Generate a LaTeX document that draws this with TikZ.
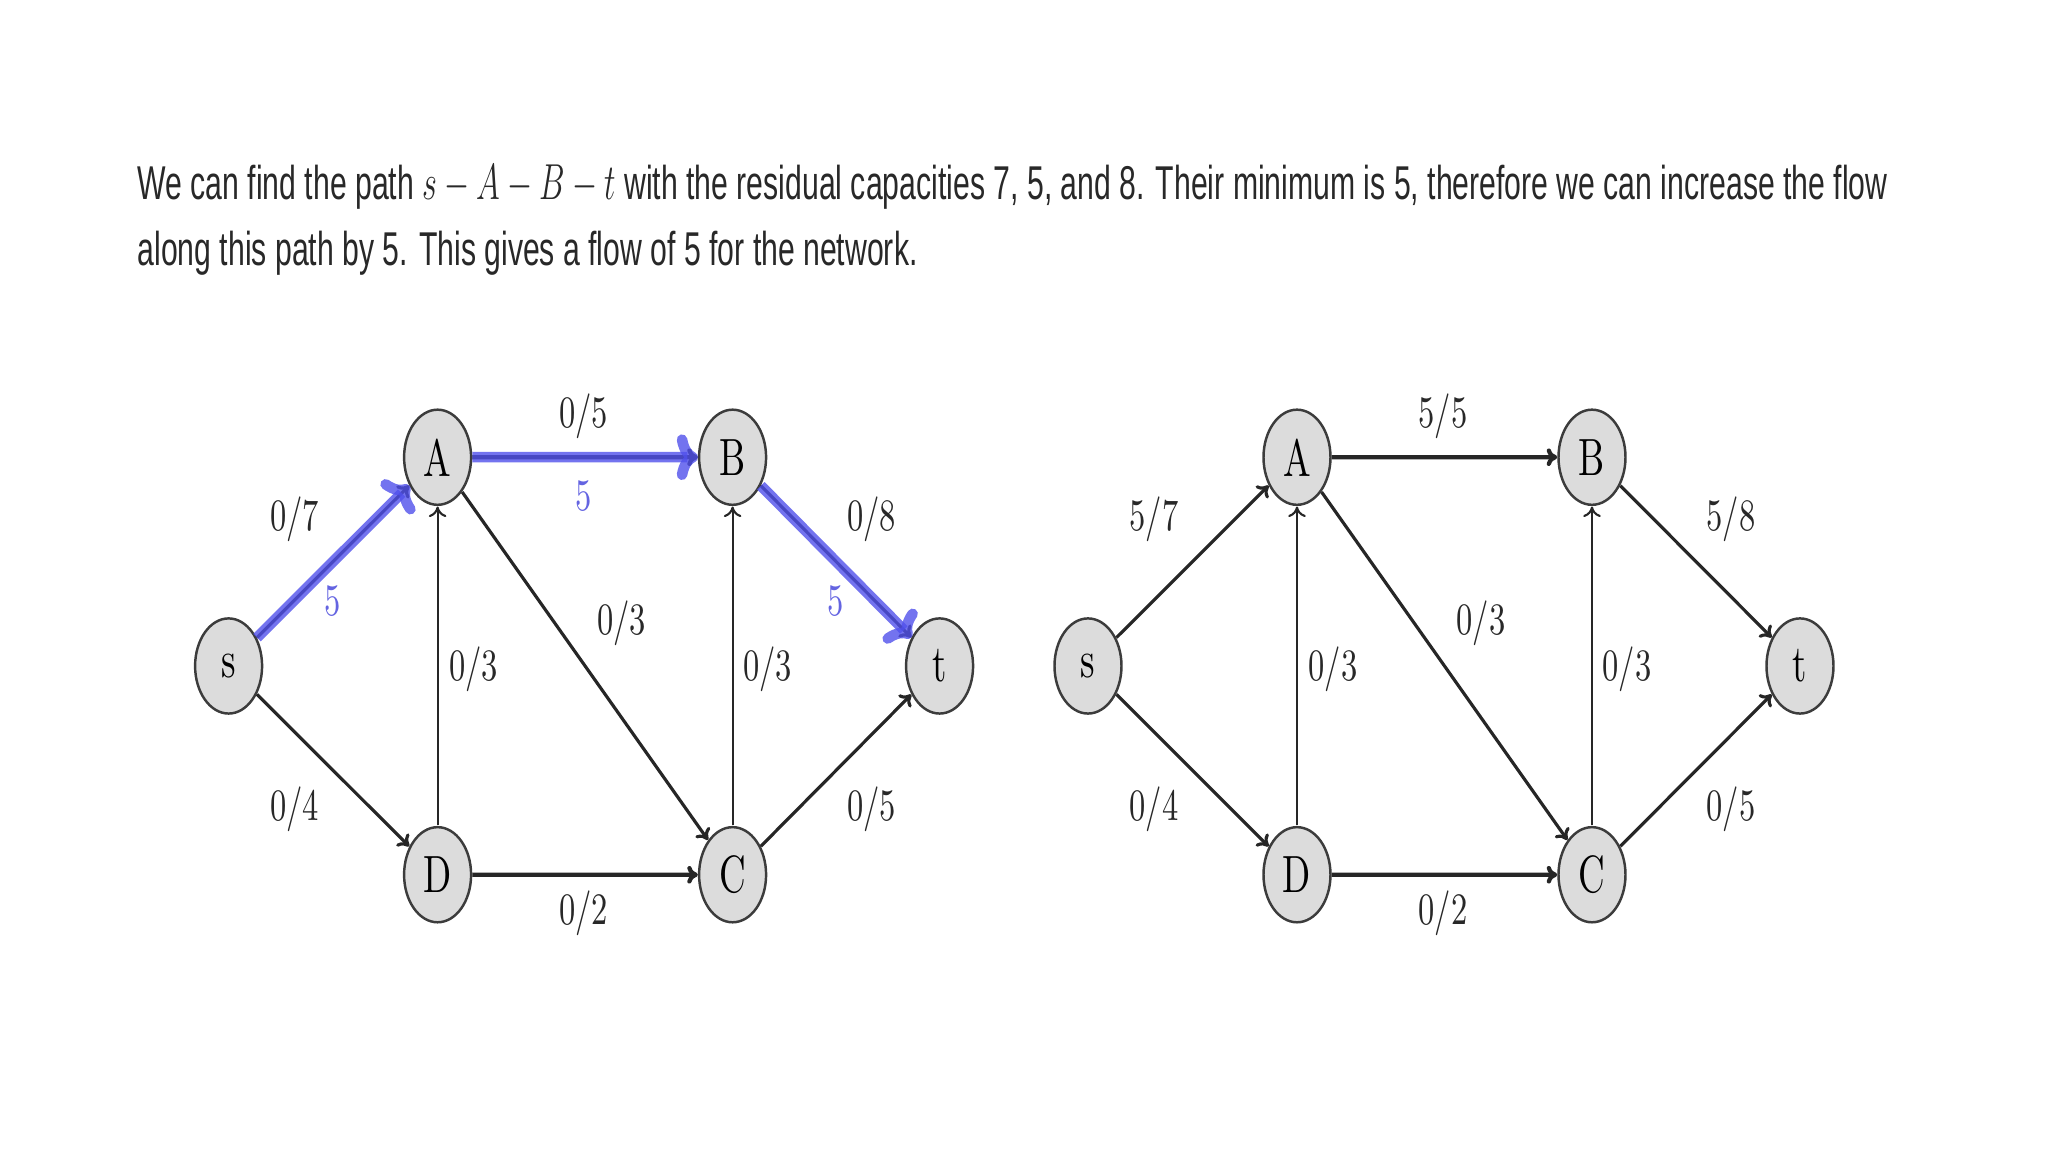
\documentclass[tikz,border=0pt]{standalone}
\usepackage{fontspec}
\usepackage{graphicx}
\usepackage{xcolor}
\usepackage{tikz}
\usetikzlibrary{arrows.meta,positioning}
\newfontfamily\capfont{Liberation Sans}
\definecolor{vgray}{RGB}{220,220,220}
\definecolor{vline}{RGB}{60,60,60}
\definecolor{pathblue}{RGB}{80,80,235}
\definecolor{flowblue}{RGB}{100,100,225}
\definecolor{txtgray}{RGB}{40,40,40}

\begin{document}
\begin{tikzpicture}[
    vertex/.style={circle, draw=vline, fill=vgray, line width=0.7pt, minimum size=0.67cm,
        inner sep=0pt, font=\fontsize{10.5}{12}\selectfont},
    lbl/.style={font=\fontsize{9}{10}\selectfont, text=txtgray, inner sep=1pt},
    flowlbl/.style={font=\fontsize{9}{10}\selectfont, text=flowblue, inner sep=1pt},
    edge/.style={-{To[length=3pt,width=5pt]}, line width=0.9pt, draw=black!85},
    hedge/.style={edge, line width=1.2pt},
    vedge/.style={edge, line width=0.6pt},
    aug/.style={-{To[length=6pt,width=13pt]}, line width=3pt, draw=pathblue, opacity=0.8}
]
\useasboundingbox (0,0) rectangle (20.48,11.52);

% text above the two networks
\node[anchor=base west, inner sep=0pt, text=txtgray] (caption) at (1.37,9.52)
    {\resizebox{17.5cm}{\height}{\fontsize{13.5}{18.6}\selectfont\capfont
    \begin{tabular}[t]{@{}l@{}}
    We can find the path {\fontsize{15.5}{18}\selectfont$s-A-B-t$} with the residual capacities 7, 5, and 8. Their minimum is 5, therefore we can increase the flow\\
    along this path by 5. This gives a flow of 5 for the network.
    \end{tabular}}};

% network before augmenting
\begin{scope}[shift={(2.286,4.86)}, yscale=1.42, transform shape]
\node[vertex] (s1) at (0,0) {s};
\node[vertex] (a1) at (2.09,1.47) {A};
\node[vertex] (b1) at (5.04,1.47) {B};
\node[vertex] (t1) at (7.11,0) {t};
\node[vertex] (d1) at (2.09,-1.47) {D};
\node[vertex] (c1) at (5.04,-1.47) {C};
\draw[edge] (s1) -- (a1);
\draw[hedge] (a1) -- (b1);
\draw[edge] (b1) -- (t1);
\draw[edge] (s1) -- (d1);
\draw[hedge] (d1) -- (c1);
\draw[edge] (c1) -- (t1);
\draw[vedge] (d1) -- (a1);
\draw[vedge] (c1) -- (b1);
\draw[edge] (a1) -- (c1);
\draw[aug] (s1) -- (a1);
\draw[aug] (a1) -- (b1);
\draw[aug] (b1) -- (t1);
\node[lbl] (sa1) at (0.66,1.03) {0/7};
\node[lbl] (ab1) at (3.55,1.76) {0/5};
\node[lbl] (bt1) at (6.43,1.03) {0/8};
\node[lbl] (da1) at (2.45,-0.02) {0/3};
\node[lbl] (ac1) at (3.93,0.30) {0/3};
\node[lbl] (cb1) at (5.39,-0.02) {0/3};
\node[lbl] (sd1) at (0.66,-1.01) {0/4};
\node[lbl] (dc1) at (3.55,-1.74) {0/2};
\node[lbl] (ct1) at (6.43,-1.01) {0/5};
\node[flowlbl] (fsa1) at (1.04,0.46) {5};
\node[flowlbl] (fab1) at (3.55,1.20) {5};
\node[flowlbl] (fbt1) at (6.07,0.46) {5};
\end{scope}

% network after augmenting
\begin{scope}[shift={(10.88,4.86)}, yscale=1.42, transform shape]
\node[vertex] (s2) at (0,0) {s};
\node[vertex] (a2) at (2.09,1.47) {A};
\node[vertex] (b2) at (5.04,1.47) {B};
\node[vertex] (t2) at (7.12,0) {t};
\node[vertex] (d2) at (2.09,-1.47) {D};
\node[vertex] (c2) at (5.04,-1.47) {C};
\draw[edge] (s2) -- (a2);
\draw[hedge] (a2) -- (b2);
\draw[edge] (b2) -- (t2);
\draw[edge] (s2) -- (d2);
\draw[hedge] (d2) -- (c2);
\draw[edge] (c2) -- (t2);
\draw[vedge] (d2) -- (a2);
\draw[vedge] (c2) -- (b2);
\draw[edge] (a2) -- (c2);
\node[lbl] (sa2) at (0.66,1.03) {5/7};
\node[lbl] (ab2) at (3.55,1.76) {5/5};
\node[lbl] (bt2) at (6.43,1.03) {5/8};
\node[lbl] (da2) at (2.45,-0.02) {0/3};
\node[lbl] (ac2) at (3.93,0.30) {0/3};
\node[lbl] (cb2) at (5.39,-0.02) {0/3};
\node[lbl] (sd2) at (0.66,-1.01) {0/4};
\node[lbl] (dc2) at (3.55,-1.74) {0/2};
\node[lbl] (ct2) at (6.43,-1.01) {0/5};
\end{scope}
\end{tikzpicture}
\end{document}
